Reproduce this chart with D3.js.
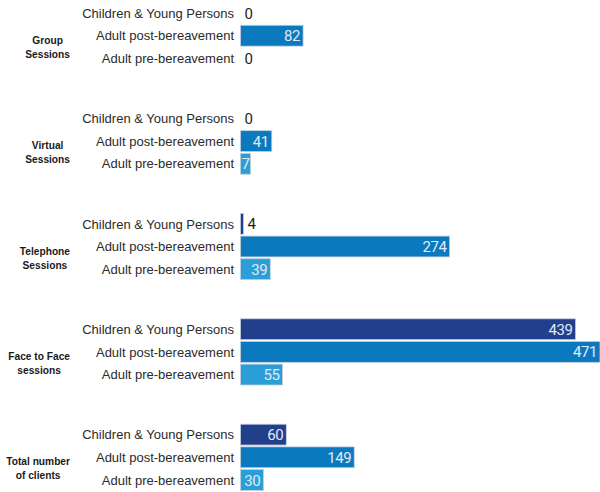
<!DOCTYPE html>
<html>
<head>
<meta charset="utf-8">
<script src="https://cdn.jsdelivr.net/npm/d3@7"></script>
<style>
  html, body { margin: 0; padding: 0; background: #fff; }
  svg { display: block; }
  .cat { font-family: "Liberation Sans", Arial, sans-serif; font-size: 13px; fill: #2b2b2b; }
  .grp { font-family: "Liberation Sans", Arial, sans-serif; font-size: 10.2px; font-weight: bold; fill: #1a1a1a; }
  .val { font-family: Roboto, "Liberation Sans", sans-serif; font-size: 15px; letter-spacing: -0.4px; }
</style>
</head>
<body>
<svg width="600" height="492"></svg>
<script>
// session types (two-line labels as shown on the left)
const groups = ["Group Sessions", "Virtual Sessions", "Telephone Sessions", "Face to Face sessions", "Total number of clients"];
const groupLines = [["Group", "Sessions"], ["Virtual", "Sessions"], ["Telephone", "Sessions"], ["Face to Face", "sessions"], ["Total number", "of clients"]];

const categories = ["Children & Young Persons", "Adult post-bereavement", "Adult pre-bereavement"];

// values per group, one array per category
const childrenValues = [0, 0, 4, 439, 60];
const postValues = [82, 41, 274, 471, 149];
const preValues = [0, 7, 39, 55, 30];

const colors = ["#213f8a", "#0b79bd", "#2a9ed6"];

const svg = d3.select("svg"),
    width = +svg.attr("width"),
    height = +svg.attr("height");

const series = [childrenValues, postValues, preValues];

const rows = groups.map((g, i) => ({
    group: g,
    lines: groupLines[i],
    values: categories.map((c, j) => ({ cat: c, idx: j, value: series[j][i] }))
}));

const y0 = d3.scaleBand()
    .domain(groups)
    .range([-17, 510]);

const y1 = d3.scaleBand()
    .domain(categories)
    .range([-34, 34])
    .paddingInner(0.08)
    .paddingOuter(0.04);

const x = d3.scaleLinear()
    .domain([0, 471])
    .range([240.5, 600]);

const color = d3.scaleOrdinal()
    .domain(categories)
    .range(colors);

let g = svg.selectAll("g.group")
    .data(rows)
    .enter().append("g")
    .attr("class", "group")
    .attr("transform", d => `translate(0, ${y0(d.group) + y0.bandwidth() / 2})`);

// group labels, block right edge near x=70, lines centred on each other
const grpText = g.append("text")
    .attr("class", "grp")
    .attr("text-anchor", "middle");

grpText.selectAll("tspan")
    .data(d => d.lines)
    .enter().append("tspan")
    .attr("y", (d, i) => 8 + i * 14)
    .text(d => d);

grpText.each(function() {
    const spans = d3.select(this).selectAll("tspan");
    let w = 0;
    spans.each(function() { w = Math.max(w, this.getComputedTextLength()); });
    spans.attr("x", 70 - w / 2);
});

const row = g.selectAll("g.row")
    .data(d => d.values)
    .enter().append("g")
    .attr("class", "row")
    .attr("transform", d => `translate(0, ${y1(d.cat)})`);

row.append("text")
    .attr("class", "cat")
    .attr("x", 234)
    .attr("y", y1.bandwidth() / 2)
    .attr("dy", "0.36em")
    .attr("text-anchor", "end")
    .text(d => d.cat);

row.filter(d => d.value > 0)
    .append("rect")
    .attr("x", x(0))
    .attr("y", 0)
    .attr("width", d => x(d.value) - x(0))
    .attr("height", y1.bandwidth())
    .attr("fill", d => color(d.cat))
    .attr("stroke", "#c3cfdc")
    .attr("stroke-width", 0.8);

// values: inside the bar when there is room, otherwise just after it
const val = row.append("text")
    .attr("class", "val")
    .attr("y", y1.bandwidth() / 2)
    .attr("dy", "0.37em")
    .text(d => d.value);

val.each(function(d) {
    const t = d3.select(this);
    const w = this.getComputedTextLength();
    if (d.value >= 5) {
        const end = Math.max(x(d.value) - 3, x(0) + w + 1);
        t.attr("text-anchor", "end")
            .attr("x", end)
            .attr("fill", "#e2ebf5");
        // narrow bars are widened just enough to hold their number
        d3.select(this.parentNode).select("rect")
            .attr("width", Math.max(x(d.value) - x(0), end + 1 - x(0)));
    } else {
        t.attr("text-anchor", "start")
            .attr("x", x(d.value) + 4)
            .attr("fill", "#1e1e1e");
    }
});
</script>
</body>
</html>
